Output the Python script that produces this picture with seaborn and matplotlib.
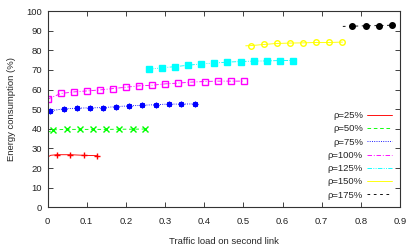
import matplotlib
matplotlib.use('Agg')
import matplotlib.pyplot as plt
from matplotlib.lines import Line2D
import pandas as pd
import seaborn as sns

sns.set_style('ticks')
plt.rcParams['font.family'] = ['Liberation Sans', 'DejaVu Sans']

# data (first point of most series is the unmarked line start)
labels = ['ρ=25%', 'ρ=50%', 'ρ=75%', 'ρ=100%', 'ρ=125%', 'ρ=150%', 'ρ=175%']

x25 = [0, 0.008, 0.024, 0.058, 0.092, 0.126]
y25 = [25.5, 26.5, 26.8, 26.8, 26.5, 26.3]

x50 = [0, 0.015, 0.049, 0.082, 0.116, 0.150, 0.183, 0.217, 0.250]
y50 = [38.1, 39.5, 39.7, 39.7, 39.7, 39.7, 39.8, 39.8, 39.9]

x75 = [0, 0.006, 0.041, 0.075, 0.108, 0.142, 0.175, 0.208, 0.242, 0.276, 0.309, 0.342, 0.376]
y75 = [48.8, 49.1, 50.2, 50.5, 50.7, 50.8, 51.3, 51.7, 52.0, 52.3, 52.6, 52.6, 52.7]

x100 = [0, 0.034, 0.067, 0.100, 0.133, 0.167, 0.200, 0.234, 0.267, 0.300, 0.334, 0.367, 0.401, 0.434, 0.468, 0.502]
y100 = [55.1, 58.0, 58.8, 59.3, 59.8, 60.5, 61.2, 61.9, 62.2, 62.9, 63.3, 63.8, 64.1, 64.3, 64.3, 64.3]

x125 = [0.259, 0.293, 0.326, 0.359, 0.393, 0.425, 0.459, 0.494, 0.526, 0.560, 0.594, 0.628]
y125 = [70.4, 71.1, 71.7, 72.4, 73.1, 73.5, 74.0, 74.3, 74.5, 74.6, 74.8, 74.8]

x150 = [0.506, 0.519, 0.553, 0.586, 0.619, 0.653, 0.686, 0.719, 0.753]
y150 = [82.3, 82.4, 83.0, 83.5, 83.7, 83.8, 84.0, 84.0, 84.2]

x175 = [0.754, 0.778, 0.812, 0.846, 0.879]
y175 = [92.2, 92.3, 92.5, 92.6, 92.8]

xs = [x25, x50, x75, x100, x125, x150, x175]
ys = [y25, y50, y75, y100, y125, y150, y175]
first_marked = [2, 1, 1, 0, 0, 1, 1]

colors = ['#ff0000', '#00ff00', '#0000ff', '#ff00ff', '#00ffff', '#ffff00', '#000000']
dashes = [None, (4, 3), (1, 1.5), (5, 2, 1, 2), (5, 1.5, 1, 1.5, 1, 1.5), None, (3, 4)]
markers = ['+', 'x', (8, 2, 0), 's', 's', 'o', 'o']
filled = [True, True, True, False, True, False, True]

fig = plt.figure(figsize=(4.15, 2.49), dpi=100)
ax = fig.add_axes([0.1145, 0.1675, 0.8494, 0.788])

for i in range(7):
    df = pd.DataFrame({'x': xs[i], 'y': ys[i]})
    sns.lineplot(data=df, x='x', y='y', ax=ax, sort=False, estimator=None,
                 color=colors[i], lw=0.65)
    line = ax.lines[-1]
    line.set_marker(markers[i])
    line.set_markersize(4.0)
    line.set_markevery(list(range(first_marked[i], len(xs[i]))))
    line.set_markeredgecolor(colors[i])
    line.set_markeredgewidth(1.0)
    line.set_markerfacecolor(colors[i] if filled[i] else 'none')
    if dashes[i] is not None:
        line.set_dashes(dashes[i])

ax.set_xlim(0, 0.9)
ax.set_ylim(0, 100)
ax.set_xticks([0, 0.1, 0.2, 0.3, 0.4, 0.5, 0.6, 0.7, 0.8, 0.9])
ax.set_xticklabels(['0', '0.1', '0.2', '0.3', '0.4', '0.5', '0.6', '0.7', '0.8', '0.9'])
ax.set_yticks(range(0, 101, 10))
ax.tick_params(direction='in', top=True, right=True, length=3.5, width=0.6,
               labelsize=6.8, colors='#222222')
ax.tick_params(axis='x', pad=7)
ax.tick_params(axis='y', pad=4)
for s in ax.spines.values():
    s.set_linewidth(0.8)
    s.set_color('#333333')

ax.set_xlabel('Traffic load on second link', fontsize=6.8, labelpad=8)
ax.set_ylabel('Energy consumption (%)', fontsize=6.8, labelpad=7)

handles = []
for i in range(7):
    h = Line2D([0], [0], color=colors[i], lw=0.65)
    if dashes[i] is not None:
        h.set_dashes(dashes[i])
    handles.append(h)
ax.legend(handles, labels, loc='lower right', bbox_to_anchor=(0.99, 0.015),
          frameon=False, fontsize=6.8, markerfirst=False, handlelength=2.6,
          handletextpad=0.45, labelspacing=0.45, borderpad=0)

fig.savefig('out.png', dpi=100)
